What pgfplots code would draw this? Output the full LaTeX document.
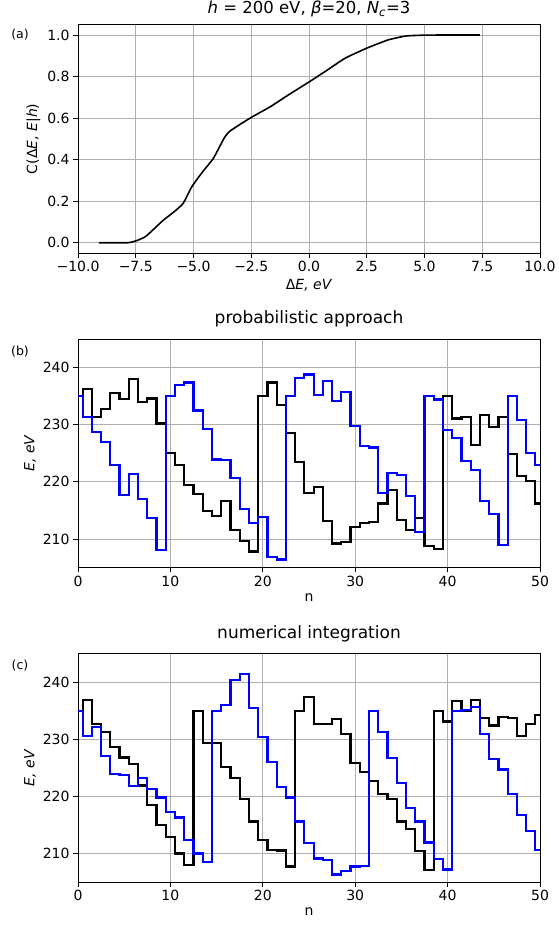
\documentclass[border=0pt]{standalone}
\usepackage{fontspec}
\setmainfont{DejaVu Sans}
\usepackage{pgfplots}
\usepackage{pgfplotstable}
\pgfplotsset{compat=1.18}

% energy sequences E(n): black = first chain, blue = second chain
\pgfplotstableread{
n  b1     b2
0  235.0  235.0
1  236.2  231.3
2  231.3  228.7
3  232.8  227.0
4  235.6  222.9
5  234.5  217.7
6  238.0  221.3
7  234.0  217.0
8  234.6  213.6
9  230.2  208.0
10 225.1  235.0
11 222.9  237.0
12 219.4  237.4
13 217.8  232.5
14 214.9  229.2
15 214.0  223.9
16 216.6  223.8
17 211.5  220.7
18 209.6  215.2
19 207.8  212.8
20 235.0  213.9
21 237.4  206.8
22 233.4  206.4
23 228.6  235.0
24 223.5  238.2
25 218.0  238.8
26 219.1  235.2
27 213.2  237.7
28 209.2  234.2
29 209.5  235.7
30 212.1  229.8
31 212.8  226.3
32 213.0  226.0
33 216.2  218.1
34 218.5  221.5
35 213.3  221.2
36 211.5  217.5
37 213.6  211.2
38 208.7  235.0
39 208.3  234.4
40 235.0  229.1
41 231.1  227.6
42 231.4  223.6
43 226.5  222.0
44 231.7  216.6
45 229.6  214.4
46 231.4  209.0
47 224.8  235.0
48 221.0  230.8
49 220.1  225.0
50 216.2  223.0
}\probtab

\pgfplotstableread{
n  c1     c2
0  235.0  235.0
1  236.8  230.5
2  232.6  232.2
3  231.2  227.1
4  228.6  223.9
5  226.8  223.7
6  225.6  221.8
7  221.9  223.2
8  218.5  221.3
9  215.0  219.8
10 212.9  217.3
11 210.0  216.3
12 208.0  212.3
13 235.0  210.0
14 229.4  208.5
15 229.4  235.0
16 225.1  236.0
17 223.2  240.4
18 219.5  241.4
19 215.6  235.4
20 212.3  230.4
21 210.6  226.0
22 210.5  221.7
23 207.7  219.8
24 235.0  215.6
25 237.4  211.8
26 232.6  209.1
27 232.7  208.9
28 233.5  206.3
29 230.9  206.9
30 225.9  207.7
31 224.2  207.8
32 222.7  235.0
33 220.4  231.2
34 219.5  226.7
35 215.6  222.3
36 214.3  217.9
37 210.4  215.6
38 207.1  211.9
39 235.0  209.0
40 233.1  207.2
41 236.7  235.0
42 234.9  235.1
43 236.8  235.7
44 233.7  230.9
45 232.4  226.5
46 233.9  224.7
47 233.7  220.4
48 230.6  216.7
49 232.7  213.9
50 234.3  210.6
}\numtab

\pgfplotsset{
  panel/.style={
    scale only axis, width=462pt, height=228.5pt,
    tick pos=left, tick align=outside,
    major tick length=4.9pt,
    every tick/.style={black, line width=0.8pt},
    axis line style={line width=0.8pt},
    grid=major, grid style={line width=0.8pt, color=black!31},
    tick label style={font=\fontsize{14}{16}\selectfont},
    label style={font=\fontsize{14}{16}\selectfont},
    title style={font=\fontsize{17}{20}\selectfont, at={(0.5,1)}, anchor=base,
      inner sep=1pt, yshift=9pt},
    /pgf/number format/assume math mode=true,
  },
  steppanel/.style={
    panel,
    xmin=0, xmax=50, ymin=205, ymax=245,
    xtick={0,10,...,50}, ytick={210,220,230,240},
    xlabel={n}, ylabel={\textit{E, eV}},
  },
  stepline/.style={line width=2.2pt, const plot mark mid},
}

\begin{document}
\begin{tikzpicture}
\path[use as bounding box] (0pt,0pt) rectangle (558pt,932pt);

% (a) cumulative distribution
\begin{axis}[panel, at={(78pt,678.9pt)}, anchor=south west,
  xmin=-10, xmax=10, ymin=-0.05, ymax=1.05,
  xtick={-10,-7.5,-5,-2.5,0,2.5,5,7.5,10},
  xticklabels={−10.0,−7.5,−5.0,−2.5,0.0,2.5,5.0,7.5,10.0},
  ytick={0,0.2,0.4,0.6,0.8,1.0},
  yticklabels={0.0,0.2,0.4,0.6,0.8,1.0},
  xlabel={Δ\textit{E, eV}},
  ylabel={C(Δ\textit{E}, \textit{E}|\textit{h})},
  title style={yshift=-4pt, font=\fontsize{16.5}{19}\selectfont},
  title={\textit{h} = 200 eV, \textit{β}=20, \textit{N}\textsubscript{\textit{c}}=3}]
\addplot[black, line width=1.6pt, smooth, tension=0.3] coordinates {
(-9.1,0.0) (-7.84,0.0) (-7.46,0.01) (-7.07,0.03) (-6.61,0.077) (-6.3,0.109)
(-5.84,0.149) (-5.45,0.189) (-5.07,0.27) (-4.6,0.342) (-4.14,0.406)
(-3.68,0.502) (-3.45,0.535) (-2.91,0.575) (-2.44,0.607) (-1.67,0.655)
(-0.9,0.711) (0.02,0.775) (0.79,0.831) (1.56,0.888) (2.49,0.936)
(3.42,0.976) (4.19,0.995) (4.96,0.999) (6.0,1.0) (7.4,1.0)};
\end{axis}

% (b) probabilistic approach
\begin{axis}[steppanel, at={(78pt,364.5pt)}, anchor=south west,
  title={probabilistic approach}]
\addplot[black, stepline] table[x=n, y=b1] {\probtab};
\addplot[blue, stepline] table[x=n, y=b2] {\probtab};
\end{axis}

% (c) numerical integration
\begin{axis}[steppanel, at={(78pt,50pt)}, anchor=south west,
  title={numerical integration}]
\addplot[black, stepline] table[x=n, y=c1] {\numtab};
\addplot[blue, stepline] table[x=n, y=c2] {\numtab};
\end{axis}

\node[font=\fontsize{12.5}{14}\selectfont] at (20pt,897pt) {(a)};
\node[font=\fontsize{12.5}{14}\selectfont] at (20pt,580pt) {(b)};
\node[font=\fontsize{12.5}{14}\selectfont] at (20pt,266pt) {(c)};
\end{tikzpicture}
\end{document}
